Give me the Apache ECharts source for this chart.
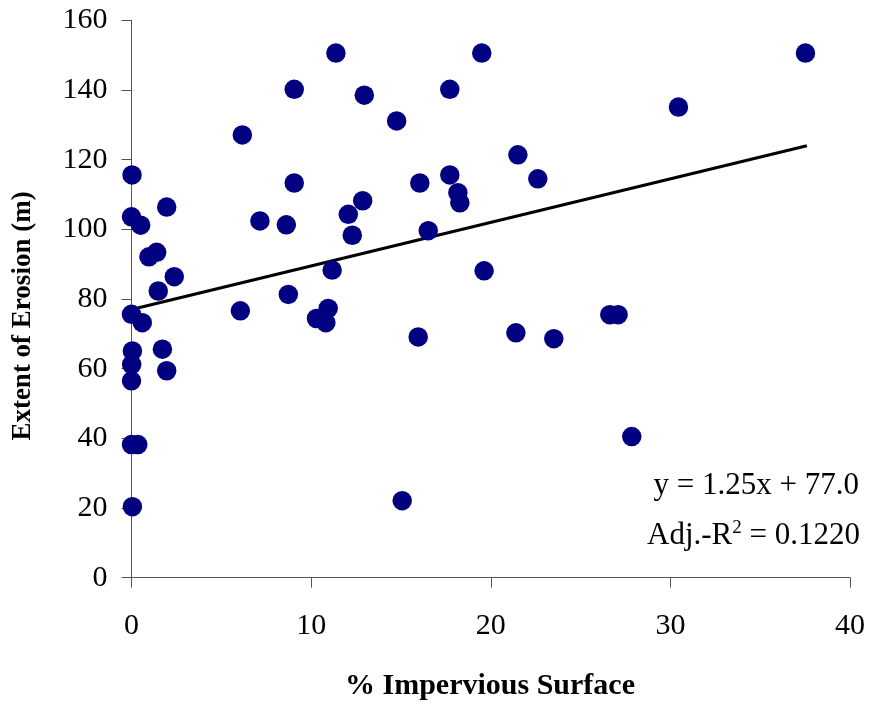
<!DOCTYPE html>
<html>
<head>
<meta charset="utf-8">
<script src="https://cdn.jsdelivr.net/npm/echarts@6/dist/echarts.min.js"></script>
<style>
  html, body { margin: 0; padding: 0; background: #fff; }
  #chart { width: 869px; height: 707px; }
</style>
</head>
<body>
<div id="chart"></div>
<script>
// % impervious surface (x) and extent of erosion in metres (y), one entry per site
const imperviousPct = [
  0.03, 11.38, 9.06, 12.96, 14.76, 6.17, 9.06, 12.87, 12.07, 12.29,
  7.15, 8.62, 0.0, 0.51, 1.96, 0.97, 1.40, 2.38, 1.49, 11.17,
  8.73, 0.0, 0.60, 6.06, 10.95, 10.30, 10.82, 0.05, 0.01, 0.0,
  1.72, 1.96, 0.0, 0.35, 0.05, 15.07, 19.50, 17.72, 30.45, 21.51,
  16.05, 17.72, 18.17, 18.28, 22.62, 16.52, 19.63, 15.96, 21.40, 23.51,
  26.63, 27.09, 27.85, 37.52
];
const erosionM = [
  115.6, 150.6, 140.2, 138.5, 131.1, 127.1, 113.3, 108.2, 104.3, 98.3,
  102.4, 101.3, 103.6, 101.2, 106.4, 92.1, 93.4, 86.4, 82.3, 88.3,
  81.3, 75.6, 73.2, 76.6, 77.3, 74.4, 73.2, 65.1, 61.2, 56.5,
  65.6, 59.4, 38.2, 38.2, 20.4, 22.1, 150.6, 140.2, 135.1, 121.4,
  113.3, 115.6, 110.5, 107.6, 114.5, 99.6, 88.1, 69.1, 70.3, 68.6,
  75.5, 75.5, 40.5, 150.6
];

// Linear fit reported on the chart
const fitSlope = 1.25;
const fitIntercept = 77.0;
const fitRange = [0, 37.6];
const adjR2 = '0.1220';

const xTicks = [0, 10, 20, 30, 40];
const yTicks = [0, 20, 40, 60, 80, 100, 120, 140, 160];

const points = imperviousPct.map((x, i) => [x, erosionM[i]]);
const fitLine = fitRange.map(x => [x, fitSlope * x + fitIntercept]);

const serif = '"Liberation Serif", "Times New Roman", serif';
const axisColor = '#555';

const chart = echarts.init(document.getElementById('chart'), null, { renderer: 'canvas' });
chart.setOption({
  backgroundColor: '#fff',
  animation: false,
  grid: { left: 131.5, right: 19, top: 20.3, bottom: 129.3, containLabel: false },
  xAxis: {
    type: 'value',
    min: xTicks[0], max: xTicks[xTicks.length - 1], interval: 10,
    axisLine: { show: true, onZero: false, lineStyle: { color: axisColor, width: 1 } },
    axisTick: { show: true, inside: false, length: 10, lineStyle: { color: axisColor } },
    splitLine: { show: false },
    axisLabel: { color: '#000', fontFamily: serif, fontSize: 30, margin: 33 }
  },
  yAxis: {
    type: 'value',
    min: yTicks[0], max: yTicks[yTicks.length - 1], interval: 20,
    axisLine: { show: true, onZero: false, lineStyle: { color: axisColor, width: 1 } },
    axisTick: { show: true, inside: false, length: 10, lineStyle: { color: axisColor } },
    splitLine: { show: false },
    axisLabel: { color: '#000', fontFamily: serif, fontSize: 30, margin: 24 }
  },
  series: [
    {
      type: 'line',
      data: fitLine,
      symbol: 'none',
      z: 2,
      lineStyle: { color: '#000', width: 3.2 }
    },
    {
      type: 'scatter',
      data: points,
      symbol: 'circle',
      symbolSize: 19.5,
      z: 3,
      clip: false,
      itemStyle: { color: '#000080', opacity: 1 }
    }
  ],
  graphic: [
    {
      type: 'text',
      x: 23, y: 316,
      rotation: Math.PI / 2,
      style: {
        text: 'Extent of Erosion (m)',
        fontFamily: serif, fontWeight: 'bold', fontSize: 27,
        fill: '#000', align: 'center', verticalAlign: 'middle'
      }
    },
    {
      type: 'text',
      x: 490, y: 686,
      style: {
        text: '% Impervious Surface',
        fontFamily: serif, fontWeight: 'bold', fontSize: 30,
        fill: '#000', align: 'center', verticalAlign: 'middle'
      }
    },
    {
      type: 'text',
      x: 859, y: 486,
      style: {
        text: 'y = ' + fitSlope.toFixed(2) + 'x + ' + fitIntercept.toFixed(1),
        fontFamily: serif, fontSize: 31,
        fill: '#000', align: 'right', verticalAlign: 'middle'
      }
    },
    {
      type: 'text',
      x: 860, y: 536,
      style: {
        text: 'Adj.-R{sup|2} = ' + adjR2,
        fontFamily: serif, fontSize: 31,
        fill: '#000', align: 'right', verticalAlign: 'middle',
        rich: {
          sup: { fontFamily: serif, fontSize: 19, verticalAlign: 'bottom', padding: [0, 0, 16, 0] }
        }
      }
    }
  ]
});
</script>
</body>
</html>
